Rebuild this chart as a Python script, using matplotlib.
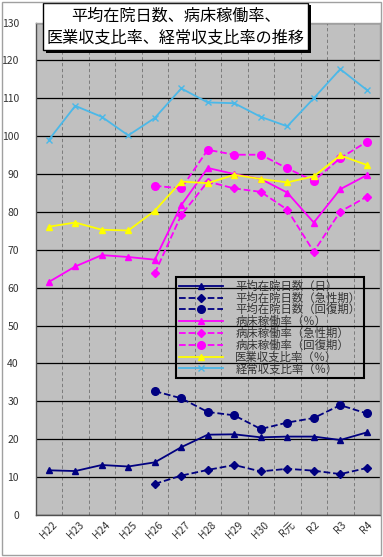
import matplotlib
matplotlib.use("Agg")
import matplotlib.pyplot as plt
from matplotlib.patches import Rectangle
import numpy as np

plt.rcParams['font.family'] = ['Noto Sans CJK JP', 'DejaVu Sans']

years = ["H22", "H23", "H24", "H25", "H26", "H27", "H28", "H29", "H30", "R元", "R2", "R3", "R4"]

stay_days = [11.8, 11.6, 13.2, 12.8, 13.9, 17.9, 21.2, 21.3, 20.5, 20.7, 20.7, 19.8, 21.8]
stay_acute = [None, None, None, None, 8.2, 10.4, 11.9, 13.2, 11.5, 12.2, 11.7, 10.8, 12.4]
stay_recovery = [None, None, None, None, 32.7, 30.8, 27.2, 26.3, 22.7, 24.4, 25.6, 29.0, 26.8]
occupancy = [61.5, 65.6, 68.6, 68.1, 67.4, 81.8, 91.6, 90.0, 88.7, 85.1, 77.2, 86.0, 89.7]
occupancy_acute = [None, None, None, None, 63.8, 79.2, 88.0, 86.2, 85.3, 80.6, 69.5, 80.1, 84.0]
occupancy_recovery = [None, None, None, None, 86.9, 86.2, 96.4, 95.1, 95.1, 91.5, 88.2, 94.2, 98.5]
medical_ratio = [76.1, 77.2, 75.3, 75.1, 80.3, 88.0, 87.6, 89.8, 88.7, 87.8, 89.4, 94.9, 92.4]
ordinary_ratio = [99.0, 108.0, 105.1, 100.2, 104.8, 112.6, 108.9, 108.7, 105.1, 102.6, 110.0, 117.7, 112.2]

series_labels = ["平均在院日数（日）", "平均在院日数（急性期）", "平均在院日数（回復期）",
                 "病床稼働率（％）", "病床稼働率（急性期）", "病床稼働率（回復期）",
                 "医業収支比率（％）", "経常収支比率（％）"]

title_lines = "平均在院日数、病床稼働率、\n医業収支比率、経常収支比率の推移"


def to_arr(v):
    return np.array([np.nan if x is None else x for x in v], dtype=float)


fig = plt.figure(figsize=(3.83, 5.57), dpi=100)
fig.patch.set_facecolor("white")
ax = fig.add_axes([0.0927, 0.0754, 0.8995, 0.8842])
ax.set_facecolor("#c0c0c0")

x = np.arange(len(years))
navy = "#000080"
mag = "#ff00ff"
styles = [
    (stay_days, navy, "-", "^", 4.5),
    (stay_acute, navy, "--", "D", 3.8),
    (stay_recovery, navy, "--", "o", 5.5),
    (occupancy, mag, "-", "^", 4.5),
    (occupancy_acute, mag, "--", "D", 3.8),
    (occupancy_recovery, mag, "--", "o", 5.5),
    (medical_ratio, "#ffff00", "-", "^", 5),
    (ordinary_ratio, "#4bb8e8", "-", "x", 5),
]
for (vals, col, ls, mk, ms), lab in zip(styles, series_labels):
    ax.plot(x, to_arr(vals), color=col, linestyle=ls, marker=mk, markersize=ms,
            linewidth=1.3, label=lab, markeredgewidth=1.0)

ax.set_xlim(-0.5, len(years) - 0.5)
ax.set_ylim(0, 130)
ax.set_yticks(np.arange(0, 131, 10))
ax.set_xticks(x)
ax.set_xticklabels(years, rotation=45, fontsize=7.5, color="#333333")
ax.tick_params(axis="both", length=0, labelsize=7.5, labelcolor="#333333")
ax.tick_params(axis="y", pad=12)
ax.set_xticks(np.arange(0.5, len(years) - 0.5, 1), minor=True)
ax.tick_params(axis="x", which="minor", length=0)
ax.grid(axis="y", which="major", color="black", linewidth=0.9)
ax.grid(axis="x", which="minor", color="#707070", linewidth=0.6, linestyle=(0, (4, 3)))
ax.set_axisbelow(True)
for s in ax.spines.values():
    s.set_color("#505050")
    s.set_linewidth(1.0)
ax.spines["top"].set_color("#a0a0a0")
ax.spines["right"].set_color("#a0a0a0")

leg = ax.legend(loc="upper left", bbox_to_anchor=(0.408, 0.483), fontsize=8.2,
                frameon=True, fancybox=False, edgecolor="black",
                handlelength=3.8, labelspacing=0.06, borderpad=0.3,
                handletextpad=1.1, borderaxespad=0)
frame = leg.get_frame()
frame.set_facecolor("none")
frame.set_alpha(None)
frame.set_linewidth(1.5)
for t in leg.get_texts():
    t.set_color("#333333")

# title box with drop shadow
fig.patches.append(Rectangle((46 / 383, 1 - 53 / 557), 265 / 383, 48 / 557,
                             transform=fig.transFigure, facecolor="black",
                             edgecolor="none", zorder=5))
fig.patches.append(Rectangle((43 / 383, 1 - 50 / 557), 265 / 383, 47 / 557,
                             transform=fig.transFigure, facecolor="white",
                             edgecolor="black", linewidth=1.0, zorder=6))
fig.text(175.5 / 383, 1 - 27 / 557, title_lines, ha="center", va="center",
         fontsize=11.6, linespacing=1.4, zorder=7)

# outer frame
fig.patches.append(Rectangle((2 / 383, 2 / 557), 379 / 383, 553 / 557,
                             transform=fig.transFigure, facecolor="none",
                             edgecolor="#a0a0a0", linewidth=1.0, zorder=8))

fig.savefig("out.png", dpi=100)
